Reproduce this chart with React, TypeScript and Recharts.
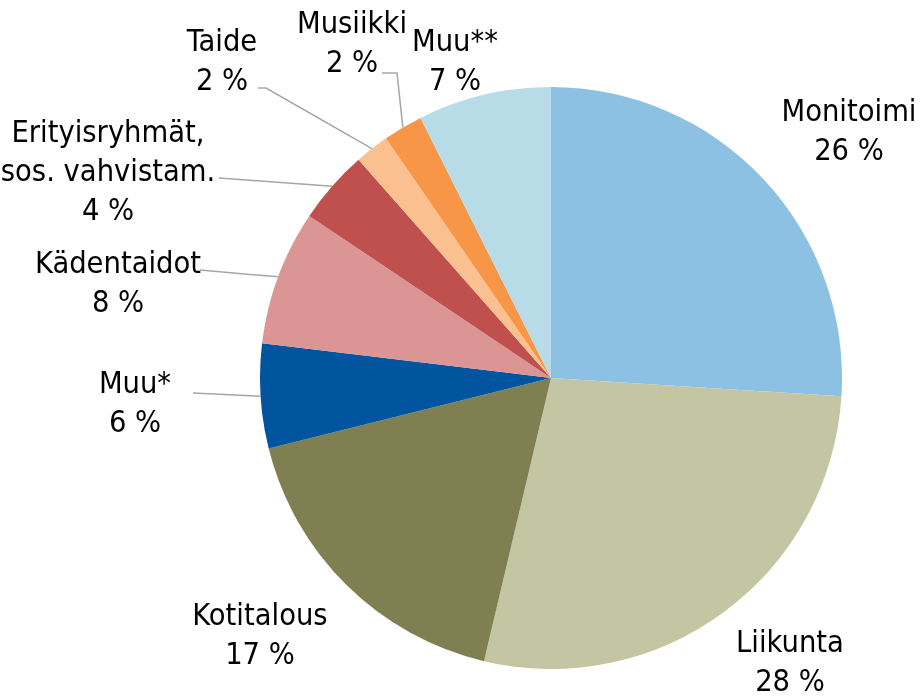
import { PieChart, Pie, Cell } from 'recharts'

const names = [
  'Monitoimi',
  'Liikunta',
  'Kotitalous',
  'Muu*',
  'Kädentaidot',
  'Erityisryhmät,|sos. vahvistam.',
  'Taide',
  'Musiikki',
  'Muu**',
]
const shares = [26, 27.7, 17.4, 5.8, 7.5, 4.1, 1.9, 2.2, 7.4]
const colors = [
  '#8CC1E4',
  '#C4C5A3',
  '#7F7F52',
  '#00559E',
  '#DA9594',
  '#C0504D',
  '#FAC090',
  '#F79646',
  '#B7DCE7',
]

// label placement, relative to pie center (first line baseline)
const labelOffset: [number, number][] = [
  [298, -257],
  [239, 274],
  [-291, 247],
  [-416, 15],
  [-433, -105],
  [-443, -236],
  [-329, -327],
  [-199, -345],
  [-96, -327],
]
// leader line start (+ optional elbow), relative to pie center
const leaderStart: ([number, number][] | null)[] = [
  null,
  null,
  null,
  [[-358, 15]],
  [[-351, -108]],
  [[-332, -200]],
  [[-293, -290], [-285, -290]],
  [[-169, -305], [-154, -305]],
  null,
]

const data = names.map((name, i) => ({ name, value: shares[i] }))

const RAD = Math.PI / 180
const LINE_H = 39

function renderLabel(props: any) {
  const { cx, cy, midAngle, outerRadius, index, value } = props
  const [dx, dy] = labelOffset[index]
  const lines = [...names[index].split('|'), `${Math.round(value)} %`]
  const lead = leaderStart[index]
  let path = ''
  if (lead) {
    const ex = cx + Math.cos(-midAngle * RAD) * outerRadius
    const ey = cy + Math.sin(-midAngle * RAD) * outerRadius
    path = lead.map(([x, y], k) => `${k === 0 ? 'M' : 'L'}${cx + x},${cy + y}`).join(' ') + ` L${ex},${ey}`
  }
  return (
    <g key={`lbl-${index}`}>
      {path && <path d={path} stroke="#A6A6A6" strokeWidth={1.5} fill="none" />}
      <text
        x={cx + dx}
        y={cy + dy}
        textAnchor="middle"
        fill="#000"
        fontSize={30.5}
        fontFamily="'DejaVu Sans Condensed', 'DejaVu Sans', sans-serif"
        style={{ fontStretch: 'condensed' }}
      >
        {lines.map((t, k) => (
          <tspan key={k} x={cx + dx} dy={k === 0 ? 0 : LINE_H}>
            {t}
          </tspan>
        ))}
      </text>
    </g>
  )
}

export default function App() {
  return (
    <div style={{ position: 'fixed', top: 0, left: 0, width: 923, height: 697, overflow: 'hidden' }}>
      <PieChart width={923} height={697} margin={{ top: 0, right: 0, bottom: 0, left: 0 }}>
        <Pie
          data={data}
          dataKey="value"
          nameKey="name"
          cx={551}
          cy={378}
          outerRadius={291}
          startAngle={90}
          endAngle={-270}
          stroke="none"
          label={renderLabel}
          labelLine={false}
          isAnimationActive={false}
        >
          {data.map((d, i) => (
            <Cell key={d.name} fill={colors[i]} />
          ))}
        </Pie>
      </PieChart>
    </div>
  )
}
